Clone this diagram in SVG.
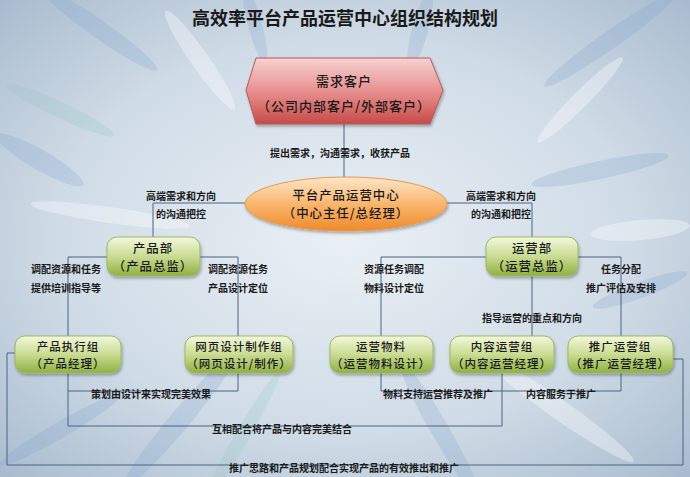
<svg xmlns="http://www.w3.org/2000/svg" width="690" height="477" viewBox="0 0 690 477">
<defs>
<radialGradient id="bg" cx="50%" cy="50%" r="70%">
<stop offset="0" stop-color="#eaf0f5"/>
<stop offset="0.6" stop-color="#cfdbe6"/>
<stop offset="1" stop-color="#a9bccf"/>
</radialGradient>
<linearGradient id="hex" x1="0" y1="0" x2="0" y2="1">
<stop offset="0" stop-color="#f7d2d2"/>
<stop offset="0.55" stop-color="#e58a89"/>
<stop offset="1" stop-color="#c64a48"/>
</linearGradient>
<linearGradient id="ell" x1="0" y1="0" x2="0" y2="1">
<stop offset="0" stop-color="#fde6c8"/>
<stop offset="0.5" stop-color="#f9b66e"/>
<stop offset="1" stop-color="#ee8a2a"/>
</linearGradient>
<linearGradient id="grn" x1="0" y1="0" x2="0" y2="1">
<stop offset="0" stop-color="#f3f8dc"/>
<stop offset="0.5" stop-color="#c9dc92"/>
<stop offset="1" stop-color="#8fb043"/>
</linearGradient>
<filter id="sh" x="-10%" y="-10%" width="120%" height="130%">
<feDropShadow dx="1" dy="2" stdDeviation="1.5" flood-color="#000" flood-opacity="0.3"/>
</filter>
<style>
.ln{fill:none;stroke:#4a6585;stroke-width:1}
.lb{font-family:"Noto Sans CJK SC","Noto Sans",sans-serif;font-size:10px;font-weight:bold;fill:#1a1a1a;text-anchor:middle;dominant-baseline:central}
.bx{fill:url(#grn);stroke:#9fb866;stroke-width:1;filter:url(#sh)}
.bt{font-family:"Noto Sans CJK SC","Noto Sans",sans-serif;font-size:12.4px;font-weight:500;fill:#1a1a1a;text-anchor:middle;dominant-baseline:central;letter-spacing:1px}
.ct{font-size:13px}
.st{font-size:11.5px}
.tt{font-family:"Noto Sans CJK SC","Noto Sans",sans-serif;font-size:18px;font-weight:bold;fill:#1a1a1a;text-anchor:middle;dominant-baseline:central}
.dec{fill:#ffffff;opacity:0.35}
.decb{fill:#7fa3cc;opacity:0.25}
.decg{fill:#8cc4c0;opacity:0.22}
</style>
</defs>
<rect width="690" height="477" fill="url(#bg)"/>
<g id="background-streaks">
<ellipse class="decb" cx="100" cy="30" rx="70" ry="9" transform="rotate(35 100 30)"/>
<ellipse class="dec" cx="200" cy="60" rx="60" ry="9" transform="rotate(55 200 60)"/>
<ellipse class="decg" cx="60" cy="110" rx="60" ry="8" transform="rotate(25 60 110)"/>
<ellipse class="decb" cx="40" cy="160" rx="50" ry="10" transform="rotate(30 40 160)"/>
<ellipse class="dec" cx="110" cy="215" rx="80" ry="8" transform="rotate(8 110 215)"/>
<ellipse class="decb" cx="255" cy="25" rx="40" ry="7" transform="rotate(75 255 25)"/>
<ellipse class="decb" cx="420" cy="30" rx="40" ry="8" transform="rotate(-75 420 30)"/>
<ellipse class="decb" cx="610" cy="40" rx="80" ry="9" transform="rotate(-35 610 40)"/>
<ellipse class="dec" cx="580" cy="100" rx="60" ry="8" transform="rotate(-45 580 100)"/>
<ellipse class="decb" cx="600" cy="170" rx="70" ry="9" transform="rotate(-12 600 170)"/>
<ellipse class="dec" cx="640" cy="230" rx="50" ry="10" transform="rotate(-5 640 230)"/>
<ellipse class="decb" cx="640" cy="290" rx="50" ry="8" transform="rotate(-20 640 290)"/>
<ellipse class="decb" cx="180" cy="420" rx="90" ry="10" transform="rotate(-50 180 420)"/>
<ellipse class="decg" cx="240" cy="440" rx="80" ry="7" transform="rotate(-60 240 440)"/>
<ellipse class="decb" cx="440" cy="430" rx="80" ry="9" transform="rotate(60 440 430)"/>
<ellipse class="dec" cx="560" cy="410" rx="90" ry="10" transform="rotate(35 560 410)"/>
<ellipse class="decb" cx="60" cy="430" rx="70" ry="8" transform="rotate(-30 60 430)"/>
</g>
<text class="tt" x="345" y="17">高效率平台产品运营中心组织结构规划</text>
<g id="connectors">
<path class="ln" d="M344 124V178"/>
<path class="ln" d="M246 203H153V237"/>
<path class="ln" d="M446 203H532V237"/>
<path class="ln" d="M68 336V257H238V336"/>
<path class="ln" d="M381 336V257H621V336"/>
<path class="ln" d="M532 275V336"/>
<path class="ln" d="M68 373V426H502V373"/>
<path class="ln" d="M68 391H238V373"/>
<path class="ln" d="M381 373V391H621V373"/>
<path class="ln" d="M673 359H683V465H7V353H15"/>
<text class="lb" x="340" y="152">提出需求，沟通需求，收获产品</text>
<text class="lb" x="181" y="195">高端需求和方向</text>
<text class="lb" x="181" y="213">的沟通把控</text>
<text class="lb" x="501" y="195">高端需求和方向</text>
<text class="lb" x="501" y="213">的沟通和把控</text>
<text class="lb" x="66" y="268">调配资源和任务</text>
<text class="lb" x="66" y="287">提供培训指导等</text>
<text class="lb" x="238" y="268">调配资源任务</text>
<text class="lb" x="238" y="287">产品设计定位</text>
<text class="lb" x="394" y="268">资源任务调配</text>
<text class="lb" x="394" y="287">物料设计定位</text>
<text class="lb" x="621" y="268">任务分配</text>
<text class="lb" x="621" y="287">推广评估及安排</text>
<text class="lb" x="532" y="317">指导运营的重点和方向</text>
<text class="lb" x="151" y="393">策划由设计来实现完美效果</text>
<text class="lb" x="282" y="428">互相配合将产品与内容完美结合</text>
<text class="lb" x="438" y="393">物料支持运营推荐及推广</text>
<text class="lb" x="561" y="393">内容服务于推广</text>
<text class="lb" x="344" y="467">推广思路和产品规划配合实现产品的有效推出和推广</text>
</g>
<g id="customer">
<polygon points="246,90 256,58 430,58 443,90 430,124 256,124" fill="url(#hex)" stroke="#b85a5a" stroke-width="1" filter="url(#sh)"/>
<text class="bt ct" x="344" y="80" font-weight="bold" letter-spacing="0">需求客户</text>
<text class="bt ct" x="344" y="105" font-weight="bold" letter-spacing="0">（公司内部客户/外部客户）</text>
</g>
<g id="center">
<ellipse cx="346" cy="204" rx="101" ry="27" fill="url(#ell)" stroke="#e89a4c" stroke-width="1" filter="url(#sh)"/>
<text class="bt" x="346" y="195" letter-spacing="2px">平台产品运营中心</text>
<text class="bt" x="346" y="213" letter-spacing="2px">（中心主任/总经理）</text>
</g>
<g id="product-dept">
<rect class="bx" x="107" y="237" width="93" height="39" rx="10"/>
<text class="bt" x="153" y="248">产品部</text>
<text class="bt" x="153" y="266">（产品总监）</text>
</g>
<g id="ops-dept">
<rect class="bx" x="486" y="237" width="92" height="39" rx="10"/>
<text class="bt" x="532" y="248">运营部</text>
<text class="bt" x="532" y="266">（运营总监）</text>
</g>
<g id="product-exec">
<rect class="bx" x="15" y="336" width="106" height="37" rx="10"/>
<text class="bt st" x="68" y="345.5">产品执行组</text>
<text class="bt st" x="68" y="362.5">（产品经理）</text>
</g>
<g id="web-design">
<rect class="bx" x="185" y="336" width="108" height="37" rx="10"/>
<text class="bt st" x="239" y="345.5">网页设计制作组</text>
<text class="bt st" x="239" y="362.5" letter-spacing="0.5px">（网页设计/制作）</text>
</g>
<g id="ops-material">
<rect class="bx" x="330" y="336" width="103" height="37" rx="10"/>
<text class="bt st" x="381" y="345.5">运营物料</text>
<text class="bt st" x="381" y="362.5" letter-spacing="0.5px">（运营物料设计）</text>
</g>
<g id="content-ops">
<rect class="bx" x="450" y="336" width="104" height="37" rx="10"/>
<text class="bt st" x="502" y="345.5">内容运营组</text>
<text class="bt st" x="502" y="362.5" letter-spacing="0.5px">（内容运营经理）</text>
</g>
<g id="promo-ops">
<rect class="bx" x="568" y="336" width="105" height="37" rx="10"/>
<text class="bt st" x="620" y="345.5">推广运营组</text>
<text class="bt st" x="620" y="362.5" letter-spacing="0.5px">（推广运营经理）</text>
</g>
</svg>
